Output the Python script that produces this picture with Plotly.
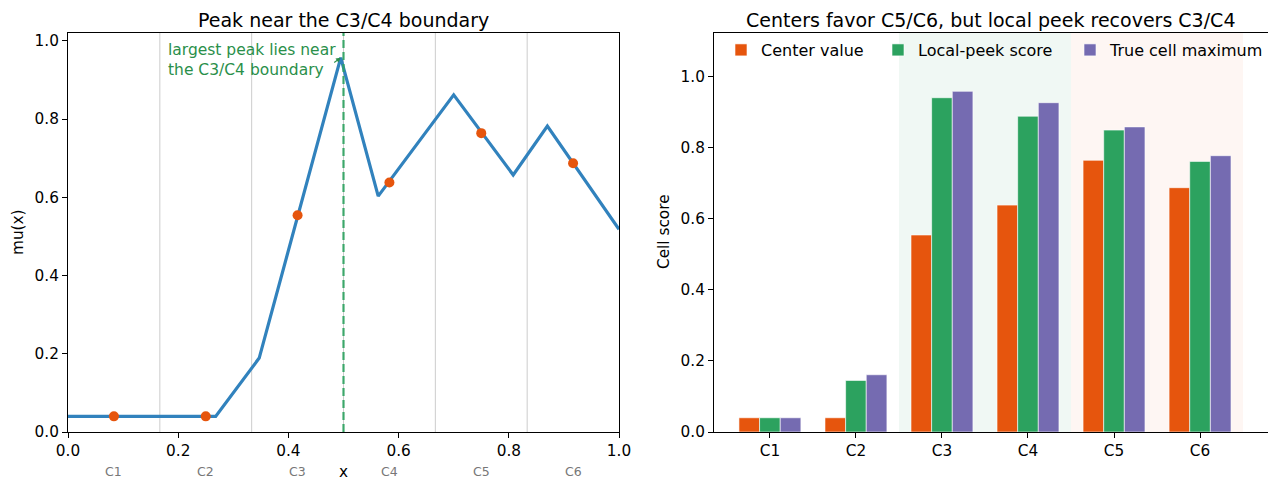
import plotly.graph_objects as go

# ---------------- data ----------------
x_knots = [0.0, 0.268, 0.347, 0.495, 0.563, 0.700, 0.808, 0.870, 1.0]
mu_knots = [0.04, 0.04, 0.189, 0.957, 0.603, 0.862, 0.657, 0.782, 0.518]

cells = ["C1", "C2", "C3", "C4", "C5", "C6"]
cell_centers = [1/12, 3/12, 5/12, 7/12, 9/12, 11/12]
cell_boundaries = [1/6, 2/6, 3/6, 4/6, 5/6]
boundary_x = 0.5
peak_point = (0.495, 0.957)

center_value = [0.04, 0.04, 0.554, 0.638, 0.764, 0.687]
local_peak = [0.04, 0.145, 0.940, 0.888, 0.849, 0.761]
true_max = [0.04, 0.161, 0.958, 0.926, 0.858, 0.777]

x_ticks = [0.0, 0.2, 0.4, 0.6, 0.8, 1.0]
y_ticks = [0.0, 0.2, 0.4, 0.6, 0.8, 1.0]

# ---------------- style ----------------
OFF = 8                      # default page body margin
W, H = 1276 - OFF, 484 - OFF
FONT = "DejaVu Sans"
BLUE = "#3182bd"
ORANGE = "#e6550d"
GREEN = "#2ca25f"
PURPLE = "#756bb1"
TEXT_GREEN = "#2a8f4a"

def px_x(p):
    return (p - OFF) / W

def px_y(p):
    return 1 - (p - OFF) / H

L_dom = [px_x(68), px_x(619)]
R_dom = [px_x(714), px_x(1268)]
Y_dom = [px_y(432), px_y(33)]

fig = go.Figure()

# left panel
fig.add_trace(go.Scatter(x=x_knots, y=mu_knots, mode="lines",
                         line=dict(color=BLUE, width=3.2),
                         xaxis="x", yaxis="y", showlegend=False, hoverinfo="skip"))
fig.add_trace(go.Scatter(x=cell_centers, y=center_value, mode="markers",
                         marker=dict(color=ORANGE, size=10),
                         xaxis="x", yaxis="y", showlegend=False))

# right panel bars
for name, vals, col, lg in [("Center value", center_value, ORANGE, "legend"),
                            ("Local-peek score", local_peak, GREEN, "legend2"),
                            ("True cell maximum", true_max, PURPLE, "legend3")]:
    fig.add_trace(go.Bar(x=cells, y=vals, name=name, marker=dict(color=col, line=dict(color="white", width=0.6)),
                         xaxis="x2", yaxis="y2", legend=lg))

shapes = []
for b in cell_boundaries:
    shapes.append(dict(type="line", xref="x", yref="y domain", x0=b, x1=b, y0=0, y1=1,
                       line=dict(color="#cccccc", width=1), layer="below"))
shapes.append(dict(type="line", xref="x", yref="y domain", x0=boundary_x, x1=boundary_x, y0=0, y1=1,
                   line=dict(color="rgba(44,162,95,0.9)", width=2.2, dash="8px,4px"), layer="above"))
shapes.append(dict(type="rect", xref="x2", yref="y2 domain", x0=1.5, x1=3.5, y0=0, y1=1,
                   fillcolor=GREEN, opacity=0.07, line=dict(width=0), layer="below"))
shapes.append(dict(type="rect", xref="x2", yref="y2 domain", x0=3.5, x1=5.5, y0=0, y1=1,
                   fillcolor=ORANGE, opacity=0.05, line=dict(width=0), layer="below"))

ann = []
ann.append(dict(text="Peak near the C3/C4 boundary", x=px_x(343), y=1, xref="paper", yref="paper",
                showarrow=False, borderpad=0, font=dict(size=19, color="black", family=FONT),
                xanchor="center", yanchor="top"))
ann.append(dict(text="Centers favor C5/C6, but local peek recovers C3/C4", x=px_x(991), y=1, xref="paper", yref="paper",
                showarrow=False, borderpad=0, font=dict(size=19, color="black", family=FONT),
                xanchor="center", yanchor="top"))
ann.append(dict(text="mu(x)", x=px_x(18), y=px_y(232), xref="paper", yref="paper", textangle=-90,
                showarrow=False, font=dict(size=15.3, color="black", family=FONT), xanchor="center", yanchor="middle"))
ann.append(dict(text="Cell score", x=px_x(664), y=px_y(232), xref="paper", yref="paper", textangle=-90,
                showarrow=False, font=dict(size=15.3, color="black", family=FONT), xanchor="center", yanchor="middle"))
ann.append(dict(text="x", x=px_x(343), y=px_y(472), xref="paper", yref="paper",
                showarrow=False, font=dict(size=15.3, color="black", family=FONT), xanchor="center", yanchor="middle"))
for c, cx in zip(cells, cell_centers):
    ann.append(dict(text=c, x=cx, y=px_y(471), xref="x", yref="paper",
                    showarrow=False, font=dict(size=12.5, color="#777777", family=FONT), xanchor="center", yanchor="middle"))
ann.append(dict(text="largest peak lies near<br>the C3/C4 boundary", x=0.178, y=px_y(39), xref="x", yref="paper",
                showarrow=False, align="left", font=dict(size=15.5, color=TEXT_GREEN, family=FONT),
                xanchor="left", yanchor="top"))
ann.append(dict(text="", x=peak_point[0], y=peak_point[1], xref="x", yref="y",
                showarrow=True, ax=-8, ay=6, axref="pixel", ayref="pixel",
                arrowhead=2, arrowsize=0.8, arrowwidth=1.2, arrowcolor=TEXT_GREEN))

axis_common = dict(showline=True, linecolor="black", linewidth=1, mirror=True, ticks="outside",
                   ticklen=5, tickwidth=1, tickcolor="black", showgrid=False, zeroline=False,
                   automargin=False,
                   tickfont=dict(size=15.3, color="black", family=FONT))

leg_common = dict(xanchor="left", yanchor="middle", orientation="h",
                  bgcolor="rgba(0,0,0,0)", font=dict(size=16, color="black", family=FONT))

fig.update_layout(
    template="none",
    width=W, height=H, margin=dict(l=0, r=0, t=0, b=0, pad=0),
    paper_bgcolor="white", plot_bgcolor="white",
    font=dict(family=FONT),
    barmode="group", bargap=0.28, bargroupgap=0,
    xaxis=dict(domain=L_dom, anchor="y", range=[0, 1], tickvals=x_ticks,
               ticktext=[f"{v:.1f}" for v in x_ticks], **axis_common),
    yaxis=dict(domain=Y_dom, anchor="x", range=[0, 1.02], tickvals=y_ticks,
               ticktext=[f"{v:.1f}" for v in y_ticks], **axis_common),
    xaxis2=dict(domain=R_dom, anchor="y2", range=[-0.65, 5.79], type="category", **axis_common),
    yaxis2=dict(domain=Y_dom, anchor="x2", range=[0, 1.122], tickvals=y_ticks,
                ticktext=[f"{v:.1f}" for v in y_ticks], **axis_common),
    shapes=shapes, annotations=ann,
    legend=dict(x=px_x(761 - 40), y=px_y(50), **leg_common),
    legend2=dict(x=px_x(918 - 40), y=px_y(50), **leg_common),
    legend3=dict(x=px_x(1110 - 40), y=px_y(50), **leg_common),
)

fig.write_html("out.html")
